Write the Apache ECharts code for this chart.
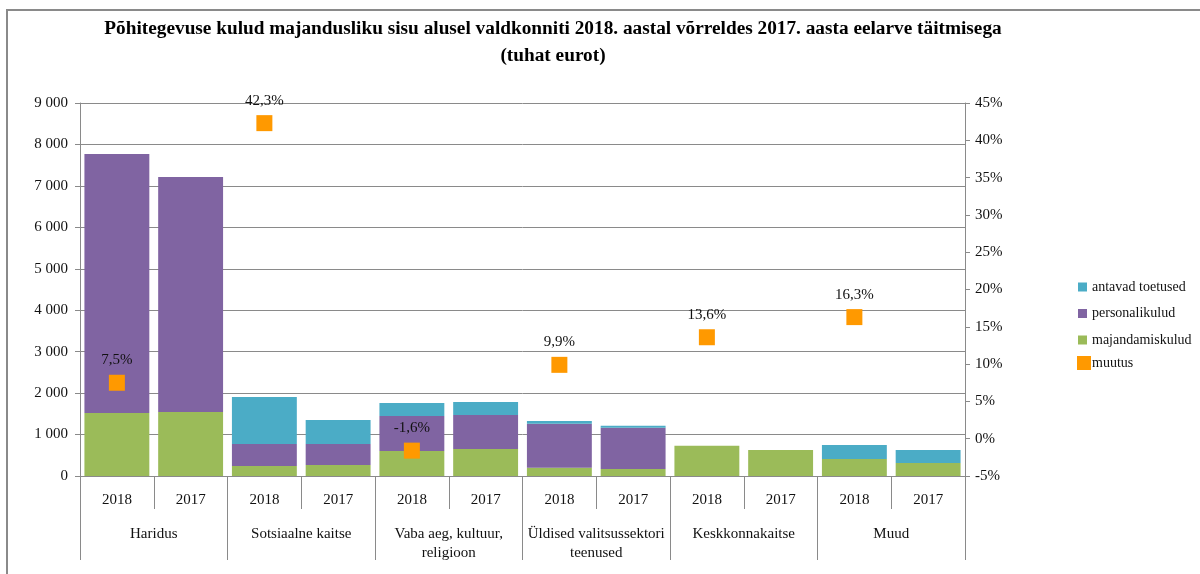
<!DOCTYPE html>
<html>
<head>
<meta charset="utf-8">
<script src="https://cdn.jsdelivr.net/npm/echarts@6/dist/echarts.min.js"></script>
<style>
html,body{margin:0;padding:0;background:#fff;}
#chart{width:1200px;height:574px;}
</style>
</head>
<body>
<div id="chart"></div>
<script>
// ---- data ----
var years = ['2018','2017','2018','2017','2018','2017','2018','2017','2018','2017','2018','2017'];
var groups = ['Haridus','Sotsiaalne kaitse','Vaba aeg, kultuur,\nreligioon','Üldised valitsussektori\nteenused','Keskkonnakaitse','Muud'];
var majandamiskulud = [1520, 1545, 240, 265, 605, 650, 200, 170, 730, 625, 410, 315];
var personalikulud  = [6250, 5670, 532, 507, 843, 822, 1062, 996, 0, 0, 0, 0];
var antavadToetused = [0, 0, 1134, 579, 313, 313, 65, 48, 0, 0, 338, 312];
var muutus = [7.5, null, 42.3, null, -1.6, null, 9.9, null, 13.6, null, 16.3, null];
var leftTicks = {min: 0, max: 9000, interval: 1000};
var rightTicks = {min: -5, max: 45, interval: 5};

var FONT = '"Liberation Serif", "Times New Roman", serif';
var GRID = '#8a8a8a';
var TXT = '#111';

var chart = echarts.init(document.getElementById('chart'));
chart.setOption({
  animation: false,
  textStyle: {fontFamily: FONT},
  graphic: [
    {type: 'rect', silent: true, shape: {x: 7, y: 10, width: 1400, height: 800},
     style: {fill: null, stroke: GRID, lineWidth: 2}},
    {type: 'text', x: 553, y: 29, style: {text: 'Põhitegevuse kulud majandusliku sisu alusel valdkonniti 2018. aastal võrreldes 2017. aasta eelarve täitmisega',
      font: 'bold 19.3px ' + FONT, fill: '#000', align: 'center', verticalAlign: 'middle'}},
    {type: 'text', x: 553, y: 56, style: {text: '(tuhat eurot)',
      font: 'bold 19.3px ' + FONT, fill: '#000', align: 'center', verticalAlign: 'middle'}}
  ],
  grid: {left: 80, right: 235, top: 103, bottom: 98, containLabel: false},
  legend: [
    {orient: 'vertical', left: 1078, top: 280, padding: 0, itemWidth: 9, itemHeight: 9, itemGap: 12.5,
     icon: 'rect', textStyle: {fontFamily: FONT, fontSize: 14, color: TXT},
     data: ['antavad toetused', 'personalikulud', 'majandamiskulud']},
    {orient: 'vertical', left: 1077, top: 356, padding: 0, itemWidth: 14, itemHeight: 14,
     icon: 'rect', textStyle: {fontFamily: FONT, fontSize: 14, color: TXT, padding: [0,0,0,-4]},
     data: ['muutus']}
  ],
  xAxis: [
    {type: 'category', data: years, position: 'bottom',
     axisLine: {onZero: false, lineStyle: {color: GRID}},
     axisTick: {show: true, interval: 0, length: 33, lineStyle: {color: GRID}},
     axisLabel: {interval: 0, margin: 17, fontSize: 15, color: TXT, fontFamily: FONT}},
    {type: 'category', data: groups, position: 'bottom',
     axisLine: {show: false, onZero: false},
     axisTick: {show: true, interval: 0, length: 84, lineStyle: {color: GRID}},
     axisLabel: {interval: 0, margin: 49, fontSize: 15, color: TXT, fontFamily: FONT, lineHeight: 19}}
  ],
  yAxis: [
    {type: 'value', min: leftTicks.min, max: leftTicks.max, interval: leftTicks.interval,
     axisLine: {show: true, onZero: false, lineStyle: {color: GRID}},
     axisTick: {show: true, length: 5, lineStyle: {color: GRID}},
     splitLine: {lineStyle: {color: GRID, width: 1}},
     axisLabel: {fontSize: 15, color: TXT, margin: 12, fontFamily: FONT,
       formatter: function (v) { return String(v).replace(/\B(?=(\d{3})+(?!\d))/g, ' '); }}},
    {type: 'value', min: rightTicks.min, max: rightTicks.max, interval: rightTicks.interval, position: 'right',
     axisLine: {show: true, onZero: false, lineStyle: {color: GRID}},
     axisTick: {show: true, length: 5, lineStyle: {color: GRID}},
     splitLine: {show: false},
     axisLabel: {fontSize: 15, color: TXT, margin: 10, fontFamily: FONT,
       formatter: function (v) { return v + '%'; }}}
  ],
  series: [
    {name: 'majandamiskulud', type: 'bar', stack: 'k', data: majandamiskulud, barCategoryGap: '12%',
     itemStyle: {color: '#9BBB59'}},
    {name: 'personalikulud', type: 'bar', stack: 'k', data: personalikulud, barCategoryGap: '12%',
     itemStyle: {color: '#8064A2'}},
    {name: 'antavad toetused', type: 'bar', stack: 'k', data: antavadToetused, barCategoryGap: '12%',
     itemStyle: {color: '#4BACC6'}},
    {name: 'muutus', type: 'scatter', yAxisIndex: 1, data: muutus, symbol: 'rect', symbolSize: 16,
     itemStyle: {color: '#FF9900', opacity: 1}, z: 5,
     label: {show: true, position: 'top', distance: 7, fontSize: 15, color: TXT, fontFamily: FONT,
       formatter: function (p) { var v = Array.isArray(p.value) ? p.value[1] : p.value; return String(v).replace('.', ',') + '%'; }}}
  ]
});
</script>
</body>
</html>
